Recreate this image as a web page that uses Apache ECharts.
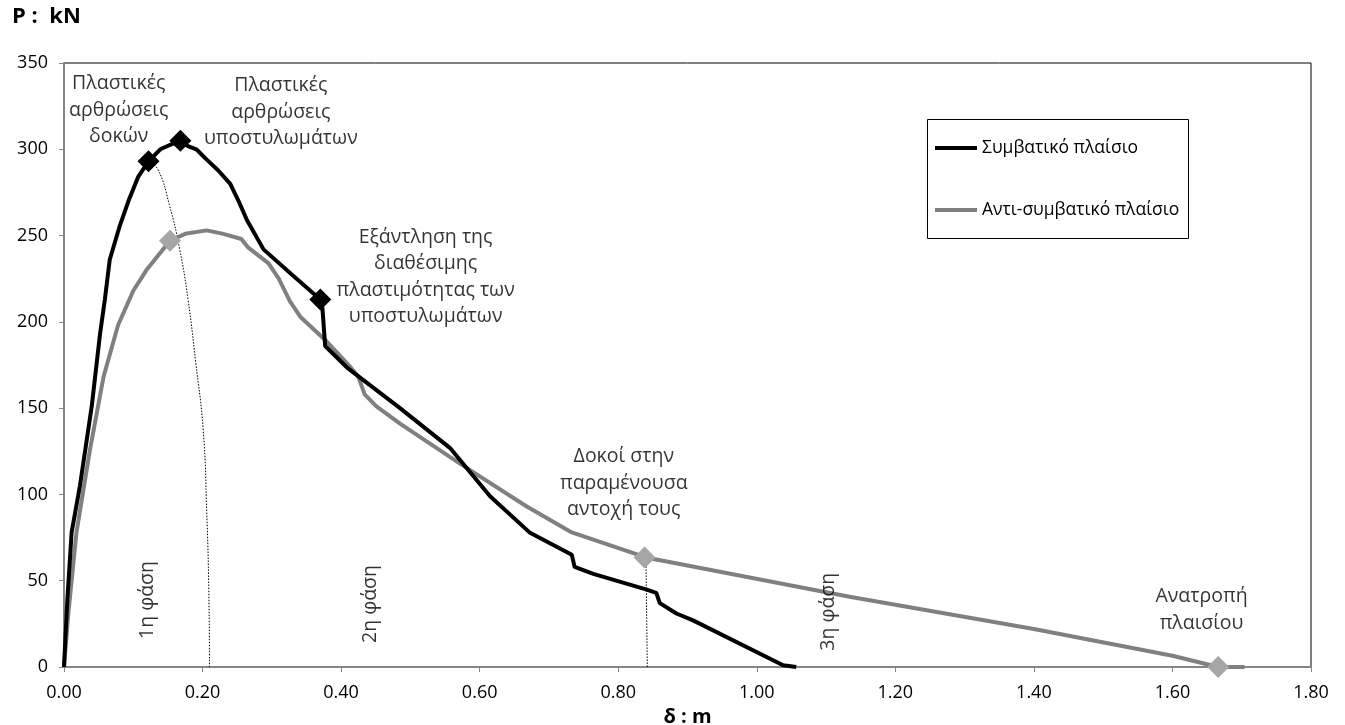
<!DOCTYPE html>
<html>
<head>
<meta charset="utf-8">
<script src="https://cdn.jsdelivr.net/npm/echarts@6/dist/echarts.min.js"></script>
<style>
html,body{margin:0;padding:0;background:#fff;}
#chart{width:1345px;height:725px;}
</style>
</head>
<body>
<div id="chart"></div>
<script>
// ---- data ----
const seriesNames = ['Συμβατικό πλαίσιο', 'Αντι-συμβατικό πλαίσιο'];
const conventional = [[0,0],[0.005,40],[0.011,78],[0.023,105],[0.04,151],[0.052,193],[0.059,213],[0.066,236],[0.08,255],[0.093,270],[0.107,284],[0.122,293],[0.139,300],[0.167,305],[0.178,302],[0.191,300],[0.206,294],[0.222,288],[0.24,280],[0.252,270],[0.264,259],[0.288,242],[0.33,227],[0.37,213],[0.373,208],[0.377,186],[0.41,173],[0.485,150],[0.557,127],[0.615,99],[0.672,78],[0.733,65],[0.737,58],[0.764,54],[0.84,45],[0.855,43],[0.86,37],[0.884,31],[0.908,27],[1.038,1],[1.057,0]];
const antiConventional = [[0,0],[0.006,30],[0.018,78],[0.0375,126],[0.057,168],[0.078,198],[0.1,218],[0.119,230],[0.153,247],[0.175,251],[0.206,253],[0.23,251],[0.256,248],[0.266,243],[0.295,234],[0.31,225],[0.326,212],[0.341,203],[0.377,189.5],[0.413,174],[0.425,168],[0.434,158],[0.451,151],[0.485,141],[0.571,118],[0.668,93],[0.733,78],[0.84,63.5],[1.134,40.7],[1.4,22],[1.6,6.5],[1.666,0],[1.704,0]];
const conventionalMarkers = [[0.122,293],[0.168,305],[0.37,213]];
const antiMarkers = [[0.153,247],[0.838,63.5],[1.666,0]];
const phaseBoundary1 = [[0.123,293],[0.136,288],[0.152,268],[0.167,242],[0.179,213],[0.19,177],[0.201,137],[0.206,90],[0.209,45],[0.21,0]];
const phaseBoundary2 = [[0.84,63.5],[0.842,0]];
const annotations = [
  {x:0.079, y:322.8, text:'Πλαστικές\nαρθρώσεις\nδοκών'},
  {x:0.313, y:321.6, text:'Πλαστικές\nαρθρώσεις\nυποστυλωμάτων'},
  {x:0.522, y:226, text:'Εξάντληση της\nδιαθέσιμης\nπλαστιμότητας των\nυποστυλωμάτων'},
  {x:0.808, y:106.6, text:'Δοκοί στην\nπαραμένουσα\nαντοχή τους'},
  {x:1.642, y:33, text:'Ανατροπή\nπλαισίου'}
];
const phaseLabels = [
  {x:0.12, y:38.8, text:'1η φάση'},
  {x:0.443, y:36.5, text:'2η φάση'},
  {x:1.103, y:32, text:'3η φάση'}
];
const xMin = 0, xMax = 1.8, xStep = 0.2;
const yMin = 0, yMax = 350, yStep = 50;

const FONT = '"Open Sans", "Noto Sans", sans-serif';
const chart = echarts.init(document.getElementById('chart'), null, {renderer:'canvas'});

const annSeries = {
  type:'scatter', symbol:'circle', symbolSize:1, silent:true, z:20,
  itemStyle:{color:'transparent'},
  data: annotations.map(a => ({value:[a.x,a.y], label:{formatter:a.text}})),
  label:{show:true, position:'inside', color:'#000', fontFamily:FONT, fontSize:19.5, lineHeight:26.5, align:'center', verticalAlign:'middle'}
};
const phaseSeries = {
  type:'scatter', symbol:'circle', symbolSize:1, silent:true, z:20,
  itemStyle:{color:'transparent'},
  data: phaseLabels.map(a => ({value:[a.x,a.y], label:{formatter:a.text}})),
  label:{show:true, position:'inside', rotate:90, color:'#000', fontFamily:FONT, fontSize:19.5, align:'center', verticalAlign:'middle'}
};

chart.setOption({
  animation:false,
  backgroundColor:'#fff',
  textStyle:{fontFamily:FONT},
  grid:{left:64, right:34, top:63, bottom:58, show:true, borderColor:'#000', borderWidth:1, backgroundColor:'transparent',
        containLabel:false, outerBoundsMode:'none'},
  graphic:[
    {type:'text', left:12, top:6, style:{text:'P :  kN', font:'bold 22px ' + FONT, fill:'#000'}},
    {type:'rect', shape:{x:927.5, y:119.5, width:261, height:119}, style:{fill:'none', stroke:'#000', lineWidth:1}, z:5}
  ],
  legend:{
    data:seriesNames, orient:'vertical', left:930, top:134,
    itemWidth:42, itemHeight:4, itemGap:44, icon:'rect',
    textStyle:{fontFamily:FONT, fontSize:17.5, color:'#000'}
  },
  xAxis:{
    type:'value', min:xMin, max:xMax, interval:xStep,
    name:'δ : m', nameLocation:'middle', nameGap:36,
    nameTextStyle:{fontFamily:FONT, fontSize:20, fontWeight:'bold', color:'#000'},
    axisLine:{show:true, onZero:false, lineStyle:{color:'#868686', width:2}},
    axisTick:{show:true, length:5, lineStyle:{color:'#868686', width:1}},
    axisLabel:{fontFamily:FONT, fontSize:18, color:'#000', margin:17, formatter:v=>v.toFixed(2)},
    splitLine:{show:false}
  },
  yAxis:{
    type:'value', min:yMin, max:yMax, interval:yStep,
    axisLine:{show:true, lineStyle:{color:'#868686', width:2}},
    axisTick:{show:true, length:5, lineStyle:{color:'#868686', width:1}},
    axisLabel:{fontFamily:FONT, fontSize:18, color:'#000', margin:16},
    splitLine:{show:false}
  },
  series:[
    {name:'phase1', type:'line', data:phaseBoundary1, smooth:true, symbol:'none', silent:true, z:2,
     lineStyle:{color:'#000', width:1, type:[1.5,1.5]}},
    {name:'phase2', type:'line', data:phaseBoundary2, symbol:'none', silent:true, z:2,
     lineStyle:{color:'#000', width:1, type:[1.5,1.5]}},
    {name:seriesNames[1], type:'line', data:antiConventional, symbol:'none', z:3,
     lineStyle:{color:'#808080', width:4}, itemStyle:{color:'#808080'}},
    {name:seriesNames[0], type:'line', data:conventional, symbol:'none', z:4,
     lineStyle:{color:'#000', width:4}, itemStyle:{color:'#000'}},
    {name:'m2', type:'scatter', data:antiMarkers, symbol:'diamond', symbolSize:22, z:6,
     itemStyle:{color:'#a6a6a6', opacity:1}},
    {name:'m1', type:'scatter', data:conventionalMarkers, symbol:'diamond', symbolSize:22, z:7,
     itemStyle:{color:'#000', opacity:1}},
    annSeries, phaseSeries
  ]
});
</script>
</body>
</html>
